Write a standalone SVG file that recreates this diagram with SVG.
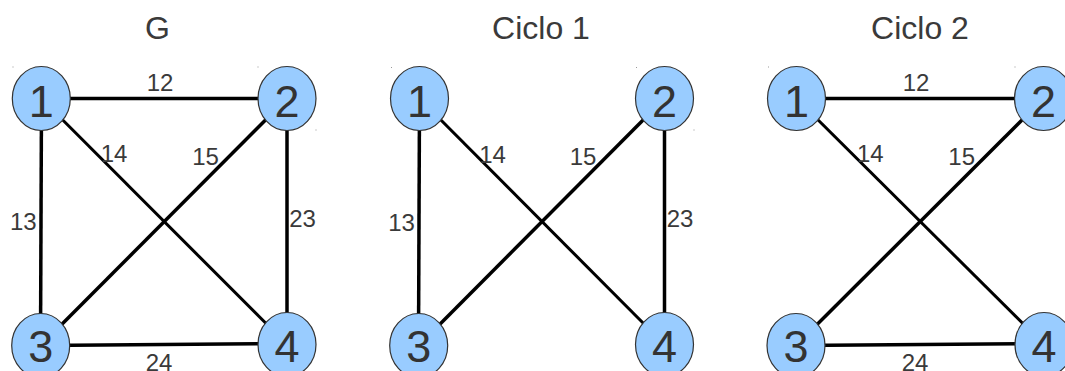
<svg xmlns="http://www.w3.org/2000/svg" width="1065" height="371" viewBox="0 0 1065 371">
<style>
.title{font-family:"Liberation Sans",Arial,sans-serif;font-size:32px;fill:#3a3a3a;text-anchor:middle}
.lbl{font-family:"Liberation Sans",Arial,sans-serif;font-size:24px;fill:#3a3a3a;text-anchor:middle}
.num{font-family:"Liberation Sans",Arial,sans-serif;font-size:45px;fill:#333;text-anchor:middle}
.node ellipse{fill:#99ccff;stroke:#333;stroke-width:1.2}
.edges line{stroke:#000;stroke-width:3.5;stroke-linecap:butt}
.dot{fill:#999}
</style>
<rect width="1065" height="371" fill="#fff"/>
<text class="title" x="157.5" y="39">G</text>
<text class="title" x="541" y="39">Ciclo 1</text>
<text class="title" x="920" y="39">Ciclo 2</text>
<g id="dots">
<rect class="dot" x="12.5" y="66.5" width="1" height="1"/>
<rect class="dot" x="257.5" y="66.5" width="1" height="1"/>
<rect class="dot" x="315.5" y="129.5" width="1" height="1"/>
<rect class="dot" x="391" y="67" width="1" height="1"/>
<rect class="dot" x="636" y="67" width="1" height="1"/>
<rect class="dot" x="693.5" y="129.5" width="1" height="1"/>
<rect class="dot" x="768" y="66.5" width="1" height="1"/>
<rect class="dot" x="1014.5" y="66.5" width="1" height="1"/>
</g>
<g id="connectors" class="edges">
<line x1="41.3" y1="98.5" x2="287" y2="98.5"/>
<line x1="41.5" y1="98.5" x2="40.5" y2="345.5"/>
<line x1="287" y1="98.5" x2="287" y2="344.5"/>
<line x1="40.7" y1="345.5" x2="287" y2="343.5"/>
<line x1="41.3" y1="98.5" x2="287" y2="344.5" style="stroke-width:3"/>
<line x1="287" y1="98.5" x2="40.7" y2="345.5"/>
<line x1="419.5" y1="98.5" x2="418.5" y2="345.5"/>
<line x1="664.5" y1="98.5" x2="664.5" y2="344.5"/>
<line x1="419.5" y1="98.5" x2="664.5" y2="344.5" style="stroke-width:3"/>
<line x1="664.5" y1="98.5" x2="418.7" y2="345.5"/>
<line x1="796.5" y1="98.5" x2="1043.5" y2="98.5"/>
<line x1="796" y1="345.5" x2="1044" y2="343.5"/>
<line x1="796.5" y1="98.5" x2="1044" y2="344.5" style="stroke-width:3"/>
<line x1="1043.5" y1="98.5" x2="796" y2="345.5"/>
</g>
<g id="edge-labels">
<text class="lbl" x="160" y="91">12</text>
<text class="lbl" x="114" y="162">14</text>
<text class="lbl" x="205.5" y="165">15</text>
<text class="lbl" x="23.3" y="230">13</text>
<text class="lbl" x="302.5" y="227">23</text>
<text class="lbl" x="159" y="370.6">24</text>
<text class="lbl" x="492.5" y="163">14</text>
<text class="lbl" x="583" y="165">15</text>
<text class="lbl" x="401.5" y="230.7">13</text>
<text class="lbl" x="680" y="227">23</text>
<text class="lbl" x="916" y="90.7">12</text>
<text class="lbl" x="870.3" y="162.3">14</text>
<text class="lbl" x="961.7" y="165">15</text>
<text class="lbl" x="915" y="371">24</text>
</g>
<g id="G-n1" class="node"><ellipse cx="41.3" cy="98.5" rx="29" ry="32"/><text class="num" x="41.3" y="117">1</text></g>
<g id="G-n2" class="node"><ellipse cx="287" cy="98.5" rx="29" ry="32"/><text class="num" x="287" y="117">2</text></g>
<g id="G-n3" class="node"><ellipse cx="40.7" cy="345.5" rx="29" ry="32"/><text class="num" x="40.7" y="362">3</text></g>
<g id="G-n4" class="node"><ellipse cx="287" cy="344.5" rx="29" ry="32"/><text class="num" x="287" y="362">4</text></g>
<g id="C1-n1" class="node"><ellipse cx="419.5" cy="98.5" rx="29" ry="32"/><text class="num" x="419.5" y="117">1</text></g>
<g id="C1-n2" class="node"><ellipse cx="664.5" cy="98.5" rx="29" ry="32"/><text class="num" x="664.5" y="117">2</text></g>
<g id="C1-n3" class="node"><ellipse cx="418.7" cy="345.5" rx="29" ry="32"/><text class="num" x="418.7" y="362">3</text></g>
<g id="C1-n4" class="node"><ellipse cx="664.5" cy="344.5" rx="29" ry="32"/><text class="num" x="664.5" y="362">4</text></g>
<g id="C2-n1" class="node"><ellipse cx="796.5" cy="98.5" rx="29" ry="32"/><text class="num" x="796.5" y="117">1</text></g>
<g id="C2-n2" class="node"><ellipse cx="1043.5" cy="98.5" rx="29" ry="32"/><text class="num" x="1043.5" y="117">2</text></g>
<g id="C2-n3" class="node"><ellipse cx="796" cy="345.5" rx="29" ry="32"/><text class="num" x="796" y="362">3</text></g>
<g id="C2-n4" class="node"><ellipse cx="1044" cy="344.5" rx="29" ry="32"/><text class="num" x="1044" y="362">4</text></g>
</svg>
